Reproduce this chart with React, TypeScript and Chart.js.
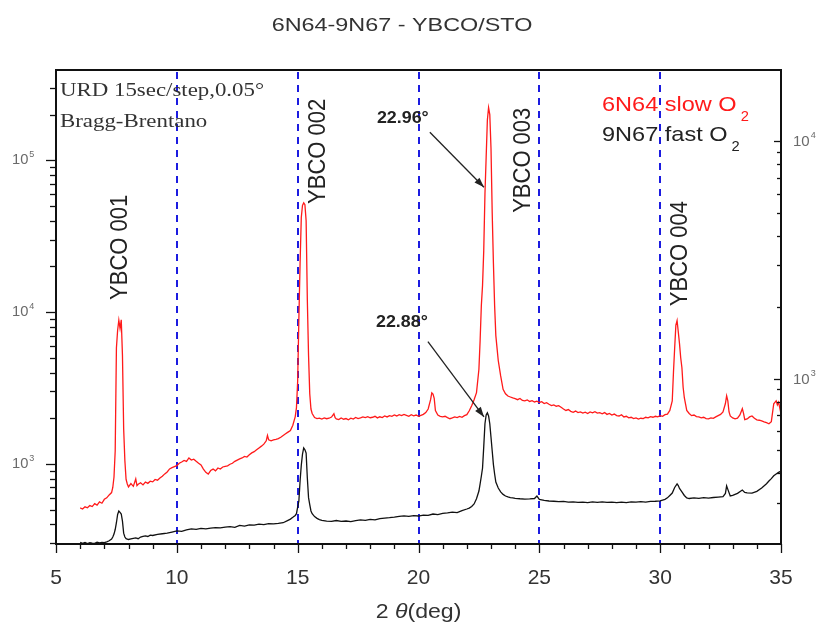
import React, { useEffect, useRef } from 'react';
import { Chart, registerables } from 'chart.js';

Chart.register(...registerables);

const chartTitle = '6N64-9N67 - YBCO/STO';
const noteLines = ['URD 15sec/step,0.05\u00b0', 'Bragg-Brentano'];
const seriesNames = ['6N64 slow O', '9N67 fast O'];
const xTickValues = [5, 10, 15, 20, 25, 30, 35];
const dashedAt = [10, 15, 20, 25, 30];
const xRange = [5, 35];
const leftRange = [297, 393000];
const rightRange = [201, 19930];

// [2theta (deg), counts]
const red6N64: [number, number][] = [
  [6.0, 513], [6.1, 505], [6.2, 522], [6.3, 514], [6.4, 532], [6.5, 524], [6.6, 548], [6.7, 536], [6.8, 562], [6.9, 551],
  [7.0, 585], [7.1, 598], [7.2, 625], [7.3, 648], [7.35, 700], [7.4, 820], [7.45, 1220], [7.5, 5800], [7.55, 7600], [7.6, 8850],
  [7.65, 7800], [7.7, 8900], [7.75, 5200], [7.8, 1700], [7.85, 1050], [7.9, 790], [7.95, 738], [8.0, 705], [8.1, 742], [8.2, 712],
  [8.3, 796], [8.35, 720], [8.4, 735], [8.5, 752], [8.6, 728], [8.7, 760], [8.8, 745], [8.9, 770], [9.0, 762], [9.1, 790],
  [9.2, 782], [9.3, 808], [9.4, 830], [9.5, 860], [9.6, 885], [9.7, 927], [9.8, 945], [9.9, 960], [10.0, 975], [10.1, 1010],
  [10.2, 1030], [10.3, 1055], [10.4, 1040], [10.5, 1095], [10.6, 1060], [10.7, 1075], [10.8, 1040], [10.9, 1010], [11.0, 985], [11.1, 925],
  [11.2, 880], [11.3, 858], [11.4, 905], [11.5, 925], [11.6, 900], [11.7, 940], [11.8, 925], [11.9, 955], [12.0, 965], [12.1, 972],
  [12.2, 995], [12.3, 1010], [12.4, 1040], [12.5, 1060], [12.6, 1080], [12.7, 1095], [12.8, 1120], [12.9, 1110], [13.0, 1150], [13.1, 1182],
  [13.2, 1205], [13.3, 1240], [13.4, 1275], [13.5, 1310], [13.6, 1350], [13.7, 1420], [13.75, 1540], [13.8, 1440], [13.9, 1418], [14.0, 1440],
  [14.1, 1452], [14.2, 1470], [14.3, 1500], [14.4, 1540], [14.5, 1580], [14.6, 1620], [14.7, 1660], [14.8, 1800], [14.9, 2050], [14.95, 2350],
  [15.0, 3500], [15.05, 9000], [15.1, 21000], [15.15, 42000], [15.2, 50500], [15.25, 52500], [15.3, 51000], [15.35, 40000], [15.4, 12000], [15.45, 5200],
  [15.5, 2900], [15.55, 2300], [15.6, 2150], [15.7, 2020], [15.8, 1990], [15.9, 2005], [16.0, 1975], [16.1, 2010], [16.2, 1985], [16.3, 2000],
  [16.4, 2035], [16.5, 2140], [16.55, 2020], [16.6, 1980], [16.7, 1960], [16.8, 2010], [16.9, 1970], [17.0, 1990], [17.1, 1955], [17.2, 2000],
  [17.3, 1975], [17.4, 2025], [17.5, 1990], [17.6, 2010], [17.7, 2040], [17.8, 2020], [17.9, 2050], [18.0, 2015], [18.1, 2030], [18.2, 2060],
  [18.3, 2010], [18.4, 2045], [18.5, 2020], [18.6, 2070], [18.7, 2040], [18.8, 2080], [18.9, 2060], [19.0, 2100], [19.1, 2070], [19.2, 2110],
  [19.3, 2080], [19.4, 2120], [19.5, 2090], [19.6, 2060], [19.7, 2110], [19.8, 2075], [19.9, 2100], [20.0, 2060], [20.1, 2090], [20.2, 2120],
  [20.3, 2180], [20.4, 2300], [20.5, 2650], [20.55, 2940], [20.6, 2880], [20.65, 2700], [20.7, 2250], [20.8, 2100], [20.9, 2060], [21.0, 2040],
  [21.1, 2060], [21.2, 2020], [21.3, 1985], [21.4, 2010], [21.5, 2040], [21.6, 2020], [21.7, 2055], [21.8, 2030], [21.9, 2080], [22.0, 2110],
  [22.1, 2240], [22.2, 2420], [22.3, 2650], [22.4, 2950], [22.5, 4200], [22.55, 6500], [22.6, 11000], [22.65, 15000], [22.7, 25500], [22.75, 60000],
  [22.8, 105000], [22.85, 184000], [22.9, 222000], [22.95, 200000], [23.0, 120000], [23.05, 45000], [23.1, 21000], [23.15, 11000], [23.2, 7000], [23.3, 4800],
  [23.4, 3800], [23.5, 3100], [23.6, 2900], [23.7, 2800], [23.8, 2760], [23.9, 2720], [24.0, 2690], [24.1, 2650], [24.2, 2700], [24.3, 2620],
  [24.4, 2600], [24.5, 2640], [24.6, 2580], [24.7, 2610], [24.8, 2560], [24.9, 2590], [25.0, 2540], [25.1, 2570], [25.2, 2500], [25.3, 2530],
  [25.4, 2470], [25.5, 2420], [25.6, 2450], [25.7, 2400], [25.8, 2420], [25.9, 2360], [26.0, 2300], [26.1, 2250], [26.2, 2280], [26.3, 2220],
  [26.4, 2190], [26.5, 2230], [26.6, 2180], [26.7, 2200], [26.8, 2160], [26.9, 2190], [27.0, 2150], [27.1, 2200], [27.2, 2170], [27.3, 2210],
  [27.4, 2160], [27.5, 2175], [27.6, 2140], [27.7, 2180], [27.8, 2120], [27.9, 2150], [28.0, 2100], [28.1, 2130], [28.2, 2080], [28.3, 2070],
  [28.4, 2110], [28.5, 2040], [28.6, 2060], [28.7, 2010], [28.8, 2030], [28.9, 1990], [29.0, 2010], [29.1, 1975], [29.2, 2000], [29.3, 1990],
  [29.4, 2030], [29.5, 2010], [29.6, 2050], [29.7, 2030], [29.8, 2060], [29.9, 2040], [30.0, 2080], [30.1, 2060], [30.2, 2110], [30.3, 2130],
  [30.4, 2250], [30.5, 2600], [30.55, 4000], [30.6, 5800], [30.65, 8200], [30.7, 8800], [30.75, 7400], [30.8, 6200], [30.85, 5000], [30.9, 4300],
  [30.95, 3200], [31.0, 2730], [31.1, 2250], [31.2, 2150], [31.3, 2080], [31.4, 2100], [31.5, 2050], [31.6, 2040], [31.7, 2010], [31.8, 2030],
  [31.9, 1990], [32.0, 1980], [32.1, 2010], [32.2, 1995], [32.3, 2040], [32.4, 2080], [32.5, 2120], [32.6, 2200], [32.7, 2500], [32.75, 2810],
  [32.8, 2600], [32.85, 2200], [32.9, 2070], [33.0, 2010], [33.1, 1980], [33.2, 2000], [33.3, 2100], [33.4, 2310], [33.45, 2150], [33.5, 1960],
  [33.6, 1980], [33.7, 2040], [33.8, 2070], [33.9, 2000], [34.0, 1950], [34.1, 1940], [34.2, 1920], [34.3, 1890], [34.4, 1870], [34.5, 1840],
  [34.6, 1900], [34.7, 2490], [34.8, 2600], [34.85, 2450], [34.9, 2550], [35.0, 2140],
];

const black9N67: [number, number][] = [
  [6.0, 305], [6.1, 300], [6.2, 304], [6.3, 299], [6.4, 303], [6.5, 301], [6.6, 300], [6.7, 305], [6.8, 302], [6.9, 304],
  [7.0, 303], [7.1, 307], [7.2, 312], [7.3, 320], [7.35, 330], [7.4, 345], [7.45, 370], [7.5, 410], [7.55, 465], [7.6, 490],
  [7.65, 480], [7.7, 468], [7.75, 420], [7.8, 350], [7.85, 330], [7.9, 322], [8.0, 318], [8.1, 321], [8.2, 324], [8.3, 326],
  [8.4, 322], [8.5, 330], [8.6, 333], [8.7, 336], [8.8, 333], [8.9, 340], [9.0, 338], [9.2, 344], [9.4, 347], [9.6, 350],
  [9.8, 356], [10.0, 362], [10.2, 360], [10.4, 368], [10.6, 373], [10.8, 371], [11.0, 376], [11.2, 374], [11.4, 378], [11.6, 381],
  [11.8, 379], [12.0, 384], [12.2, 386], [12.4, 382], [12.6, 394], [12.8, 390], [13.0, 397], [13.2, 395], [13.4, 402], [13.6, 398],
  [13.8, 404], [14.0, 403], [14.2, 406], [14.4, 410], [14.6, 425], [14.7, 433], [14.8, 445], [14.9, 458], [14.95, 470], [15.0, 520],
  [15.05, 570], [15.1, 772], [15.15, 980], [15.2, 1160], [15.25, 1275], [15.3, 1240], [15.35, 1180], [15.4, 808], [15.45, 600], [15.5, 540],
  [15.55, 490], [15.6, 470], [15.7, 450], [15.8, 438], [15.9, 430], [16.0, 425], [16.2, 420], [16.4, 418], [16.6, 424], [16.8, 419],
  [17.0, 421], [17.2, 417], [17.4, 423], [17.6, 428], [17.8, 425], [18.0, 432], [18.2, 428], [18.4, 436], [18.6, 440], [18.8, 443],
  [19.0, 447], [19.2, 452], [19.4, 455], [19.6, 451], [19.8, 456], [20.0, 454], [20.2, 460], [20.4, 458], [20.6, 468], [20.8, 464],
  [21.0, 472], [21.2, 476], [21.4, 482], [21.6, 478], [21.8, 493], [22.0, 505], [22.1, 512], [22.2, 525], [22.3, 545], [22.4, 590],
  [22.5, 663], [22.55, 740], [22.6, 830], [22.65, 940], [22.7, 1300], [22.75, 1840], [22.8, 2100], [22.85, 2170], [22.9, 2070], [22.95, 1840],
  [23.0, 1500], [23.05, 1218], [23.1, 990], [23.15, 859], [23.2, 760], [23.3, 694], [23.4, 655], [23.5, 630], [23.6, 615], [23.7, 607],
  [23.8, 600], [23.9, 597], [24.0, 594], [24.2, 590], [24.4, 587], [24.6, 589], [24.8, 592], [24.9, 615], [25.0, 585], [25.2, 575],
  [25.4, 570], [25.6, 568], [25.8, 564], [26.0, 566], [26.2, 560], [26.4, 563], [26.6, 558], [26.8, 561], [27.0, 557], [27.2, 562],
  [27.4, 559], [27.6, 563], [27.8, 558], [28.0, 561], [28.2, 556], [28.4, 560], [28.6, 557], [28.8, 562], [29.0, 560], [29.2, 564],
  [29.4, 561], [29.6, 566], [29.8, 568], [30.0, 572], [30.2, 585], [30.3, 598], [30.4, 620], [30.5, 643], [30.6, 700], [30.7, 738],
  [30.75, 720], [30.8, 690], [30.9, 655], [31.0, 620], [31.1, 597], [31.2, 592], [31.4, 598], [31.6, 594], [31.8, 600], [32.0, 596],
  [32.2, 601], [32.4, 605], [32.6, 610], [32.7, 640], [32.75, 716], [32.8, 680], [32.9, 615], [33.0, 620], [33.2, 640], [33.4, 673],
  [33.5, 650], [33.6, 645], [33.8, 643], [34.0, 660], [34.2, 694], [34.4, 740], [34.5, 772], [34.6, 800], [34.7, 835], [34.8, 859],
  [34.9, 880], [35.0, 899],
];

const peakLabels = [
  { text: 'YBCO 001', x: 7.65, y: 26700 },
  { text: 'YBCO 002', x: 15.84, y: 114500 },
  { text: 'YBCO 003', x: 24.32, y: 100000 },
  { text: 'YBCO 004', x: 30.82, y: 24300 },
];

const arrowNotes = [
  { text: '22.96\u00b0', tx: 18.28, ty: 189000, x0: 20.47, y0: 153000, x1: 22.71, y1: 66400 },
  { text: '22.88\u00b0', tx: 18.24, ty: 8530, x0: 20.39, y0: 6380, x1: 22.71, y1: 2040 },
];

const RED = '#ff1a1a';
const BLACK = '#111111';
const DASH_BLUE = '#1c1ce0';
const SANS = '"Liberation Sans", Arial, sans-serif';
const SERIF = '"Liberation Serif", "Times New Roman", serif';

function drawText(ctx: CanvasRenderingContext2D, s: string, x: number, y: number, font: string, color: string,
  align: CanvasTextAlign = 'left', sx = 1, baseline: CanvasTextBaseline = 'middle') {
  ctx.save();
  ctx.font = font;
  ctx.fillStyle = color;
  ctx.textAlign = align;
  ctx.textBaseline = baseline;
  ctx.translate(x, y);
  ctx.scale(sx, 1);
  ctx.fillText(s, 0, 0);
  ctx.restore();
}

function textW(ctx: CanvasRenderingContext2D, s: string, font: string, sx = 1) {
  ctx.save();
  ctx.font = font;
  const w = ctx.measureText(s).width * sx;
  ctx.restore();
  return w;
}

const decoPlugin = {
  id: 'deco',
  beforeDatasetsDraw(chart: any) {
    const { ctx, chartArea: a, scales } = chart;
    ctx.save();
    ctx.strokeStyle = DASH_BLUE;
    ctx.lineWidth = 2;
    ctx.setLineDash([7, 6]);
    dashedAt.forEach((d) => {
      const x = Math.round(scales.x.getPixelForValue(d));
      ctx.beginPath();
      ctx.moveTo(x, a.top + 2);
      ctx.lineTo(x, a.bottom);
      ctx.stroke();
    });
    ctx.restore();
  },
  afterDraw(chart: any) {
    const { ctx, chartArea: a, scales } = chart;
    const xs = scales.x, yl = scales.y, yr = scales.y2;
    ctx.save();
    ctx.strokeStyle = BLACK;
    ctx.lineWidth = 2;
    ctx.strokeRect(a.left, a.top, a.right - a.left, a.bottom - a.top);

    // left log ticks
    ctx.lineWidth = 1.3;
    for (let n = 2; n <= 5; n++) {
      for (let m = 1; m <= 9; m++) {
        const v = m * Math.pow(10, n);
        if (v < leftRange[0] || v > leftRange[1]) continue;
        const y = Math.round(yl.getPixelForValue(v)) + 0.5;
        const len = m === 1 ? 10 : 6;
        ctx.beginPath(); ctx.moveTo(a.left - len, y); ctx.lineTo(a.left, y); ctx.stroke();
        if (m === 1) {
          const f = `14px ${SANS}`;
          drawText(ctx, '10', 12, y, f, '#6a6a6a', 'left', 1.05);
          const w = textW(ctx, '10', f, 1.05);
          drawText(ctx, String(n), 12 + w + 1, y - 6, `9px ${SANS}`, '#6a6a6a', 'left');
        }
      }
    }
    // right log ticks
    for (let n = 2; n <= 4; n++) {
      for (let m = 1; m <= 9; m++) {
        const v = m * Math.pow(10, n);
        if (v < rightRange[0] || v > rightRange[1]) continue;
        const y = Math.round(yr.getPixelForValue(v)) + 0.5;
        const len = m === 1 ? 7 : 4;
        ctx.beginPath(); ctx.moveTo(a.right - len, y); ctx.lineTo(a.right, y); ctx.stroke();
        if (m === 1) {
          const f = `15px ${SANS}`;
          drawText(ctx, '10', 793, y, f, '#6a6a6a', 'left', 1.0);
          const w = textW(ctx, '10', f);
          drawText(ctx, String(n), 793 + w + 1, y - 6, `9px ${SANS}`, '#6a6a6a', 'left');
        }
      }
    }
    // bottom ticks
    for (let d = xRange[0]; d <= xRange[1]; d++) {
      const x = Math.round(xs.getPixelForValue(d)) + 0.5;
      const len = d % 5 === 0 ? 9 : 5;
      ctx.beginPath(); ctx.moveTo(x, a.bottom); ctx.lineTo(x, a.bottom + len); ctx.stroke();
    }
    xTickValues.forEach((d) => {
      drawText(ctx, String(d), xs.getPixelForValue(d), 578, `21px ${SANS}`, '#333', 'center', 1.0);
    });

    // axis title: 2 θ(deg)
    {
      const f1 = `21px ${SANS}`;
      const f2 = `italic 21px ${SANS}`;
      const sx = 1.1;
      const parts = [['2 ', f1], ['\u03b8', f2], ['(deg)', f1]];
      const total = parts.reduce((s, p) => s + textW(ctx, p[0], p[1], sx), 0);
      let x = (a.left + a.right) / 2 - total / 2;
      parts.forEach((p) => {
        drawText(ctx, p[0], x, 612, p[1], '#333', 'left', sx);
        x += textW(ctx, p[0], p[1], sx);
      });
    }

    // chart title
    drawText(ctx, chartTitle, 402, 26, `19px ${SANS}`, '#333', 'center', 1.23);

    // notes (top-left)
    drawText(ctx, noteLines[0], a.left + 4, 91, `18px ${SERIF}`, '#333', 'left', 1.27);
    drawText(ctx, noteLines[1], a.left + 4, 122, `18px ${SERIF}`, '#333', 'left', 1.27);

    // legend text
    const lf = `21px ${SANS}`;
    const lsx = 1.12;
    const lcolors = [RED, '#222'];
    const lbase = [111, 141];
    seriesNames.forEach((s, i) => {
      drawText(ctx, s, 602, lbase[i], lf, lcolors[i], 'left', lsx, 'alphabetic');
      const w = textW(ctx, s, lf, lsx);
      drawText(ctx, '2', 602 + w + 4, lbase[i] + 10, `14px ${SANS}`, lcolors[i], 'left', 1.05, 'alphabetic');
    });

    // peak labels (rotated)
    peakLabels.forEach((p) => {
      const x = xs.getPixelForValue(p.x);
      const y = yl.getPixelForValue(p.y);
      ctx.save();
      ctx.translate(x, y);
      ctx.scale(1.1, 1);
      ctx.rotate(-Math.PI / 2);
      ctx.font = `22px ${SANS}`;
      ctx.fillStyle = '#222';
      ctx.textAlign = 'center';
      ctx.textBaseline = 'middle';
      ctx.fillText(p.text, 0, 0);
      ctx.restore();
    });

    // arrow annotations
    arrowNotes.forEach((n) => {
      drawText(ctx, n.text, xs.getPixelForValue(n.tx), yl.getPixelForValue(n.ty), `bold 17px ${SANS}`, '#222', 'left', 1.05);
      const x0 = xs.getPixelForValue(n.x0), y0 = yl.getPixelForValue(n.y0);
      const x1 = xs.getPixelForValue(n.x1), y1 = yl.getPixelForValue(n.y1);
      ctx.strokeStyle = '#222';
      ctx.fillStyle = '#222';
      ctx.lineWidth = 1.3;
      ctx.beginPath(); ctx.moveTo(x0, y0); ctx.lineTo(x1, y1); ctx.stroke();
      const ang = Math.atan2(y1 - y0, x1 - x0);
      const L = 10, W = 3.5;
      ctx.beginPath();
      ctx.moveTo(x1, y1);
      ctx.lineTo(x1 - L * Math.cos(ang) + W * Math.sin(ang), y1 - L * Math.sin(ang) - W * Math.cos(ang));
      ctx.lineTo(x1 - L * Math.cos(ang) - W * Math.sin(ang), y1 - L * Math.sin(ang) + W * Math.cos(ang));
      ctx.closePath();
      ctx.fill();
    });
    ctx.restore();
  },
};

export default function App() {
  const ref = useRef<HTMLCanvasElement | null>(null);
  useEffect(() => {
    document.body.style.margin = '0';
    const canvas = ref.current;
    if (!canvas) return;
    const chart = new Chart(canvas, {
      type: 'line',
      data: {
        datasets: [
          {
            label: seriesNames[0],
            data: red6N64.map(([x, y]) => ({ x, y })),
            borderColor: RED,
            borderWidth: 1.3,
            pointRadius: 0,
            fill: false,
            tension: 0,
            yAxisID: 'y',
          },
          {
            label: seriesNames[1],
            data: black9N67.map(([x, y]) => ({ x, y })),
            borderColor: BLACK,
            borderWidth: 1.3,
            pointRadius: 0,
            fill: false,
            tension: 0,
            yAxisID: 'y',
          },
        ],
      },
      options: {
        animation: false,
        responsive: false,
        devicePixelRatio: 1,
        layout: { padding: { top: 70, left: 0, right: 0, bottom: 0 } },
        plugins: { legend: { display: false }, title: { display: false }, tooltip: { enabled: false } },
        events: [],
        scales: {
          x: {
            type: 'linear', position: 'bottom', min: xRange[0], max: xRange[1],
            ticks: { display: false }, grid: { display: false }, border: { display: false },
            afterFit: (s: any) => { s.height = 85; },
          },
          y: {
            type: 'logarithmic', position: 'left', min: leftRange[0], max: leftRange[1],
            ticks: { display: false }, grid: { display: false }, border: { display: false },
            afterFit: (s: any) => { s.width = 56; },
          },
          y2: {
            type: 'logarithmic', position: 'right', min: rightRange[0], max: rightRange[1],
            ticks: { display: false }, grid: { display: false }, border: { display: false },
            afterFit: (s: any) => { s.width = 41; },
          },
        },
      } as any,
      plugins: [decoPlugin],
    });
    return () => chart.destroy();
  }, []);
  return (
    <div style={{ position: 'absolute', left: 0, top: 0, width: 822, height: 629, background: '#fff' }}>
      <canvas ref={ref} width={822} height={629} style={{ width: 822, height: 629 }} />
    </div>
  );
}
